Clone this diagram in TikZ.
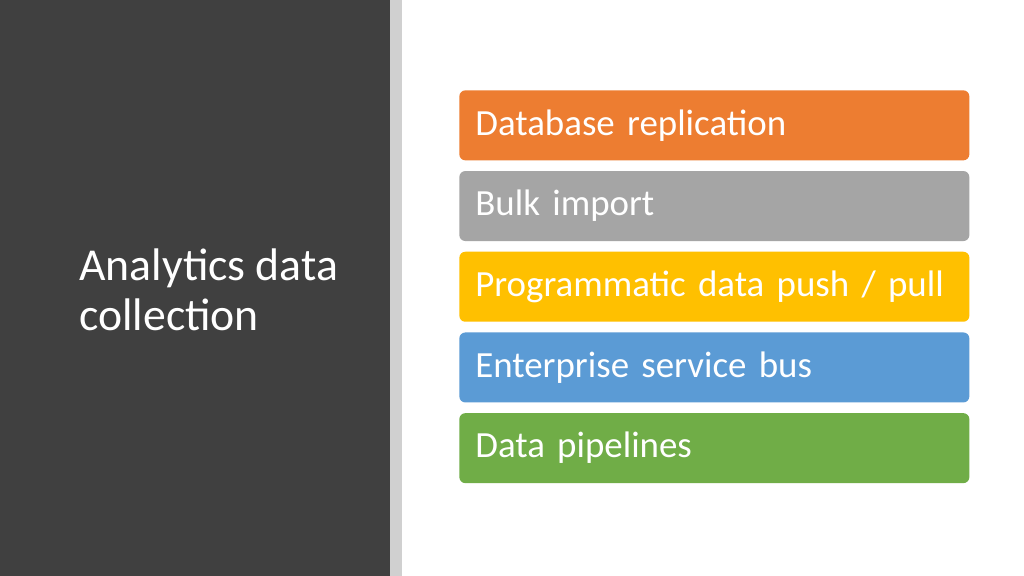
\documentclass[tikz,border=0pt]{standalone}
\usepackage{fontspec}
\setmainfont{Carlito}
\usetikzlibrary{positioning}
\definecolor{slidedark}{HTML}{404040}
\definecolor{slidestripe}{HTML}{D0D0D0}
\definecolor{accorange}{HTML}{ED7D31}
\definecolor{accgray}{HTML}{A5A5A5}
\definecolor{accyellow}{HTML}{FFC000}
\definecolor{accblue}{HTML}{5B9BD5}
\definecolor{accgreen}{HTML}{70AD47}
\tikzset{
  itembox/.style = {rounded corners=0.12cm, minimum height=1.4cm, text width=9.56cm,
                    inner xsep=0.32cm, align=left, text=white, font=\fontsize{21}{24}\selectfont},
  titletext/.style = {text=white, align=left, inner sep=0pt, font=\fontsize{26}{28.5}\selectfont}
}
\begin{document}
\begin{tikzpicture}
  % slide background and side panel
  \useasboundingbox (0,0) rectangle (20.48,11.52);
  \fill[white] (0,0) rectangle (20.48,11.52);
  \fill[slidedark] (0,0) rectangle (7.8,11.52);
  \fill[slidestripe] (7.8,0) rectangle (8.04,11.52);
  \node[titletext, anchor=west] (title) at (1.58,5.72) {Analytics data\\collection};
  % list of boxes
  \node[itembox, fill=accorange, anchor=north west] (db) at (9.18,9.72) {Database replication};
  \node[itembox, fill=accgray, below=0.2cm of db] (bulk) {Bulk import};
  \node[itembox, fill=accyellow, below=0.2cm of bulk] (push) {Programmatic data push / pull};
  \node[itembox, fill=accblue, below=0.2cm of push] (esb) {Enterprise service bus};
  \node[itembox, fill=accgreen, below=0.2cm of esb] (pipe) {Data pipelines};
\end{tikzpicture}
\end{document}
